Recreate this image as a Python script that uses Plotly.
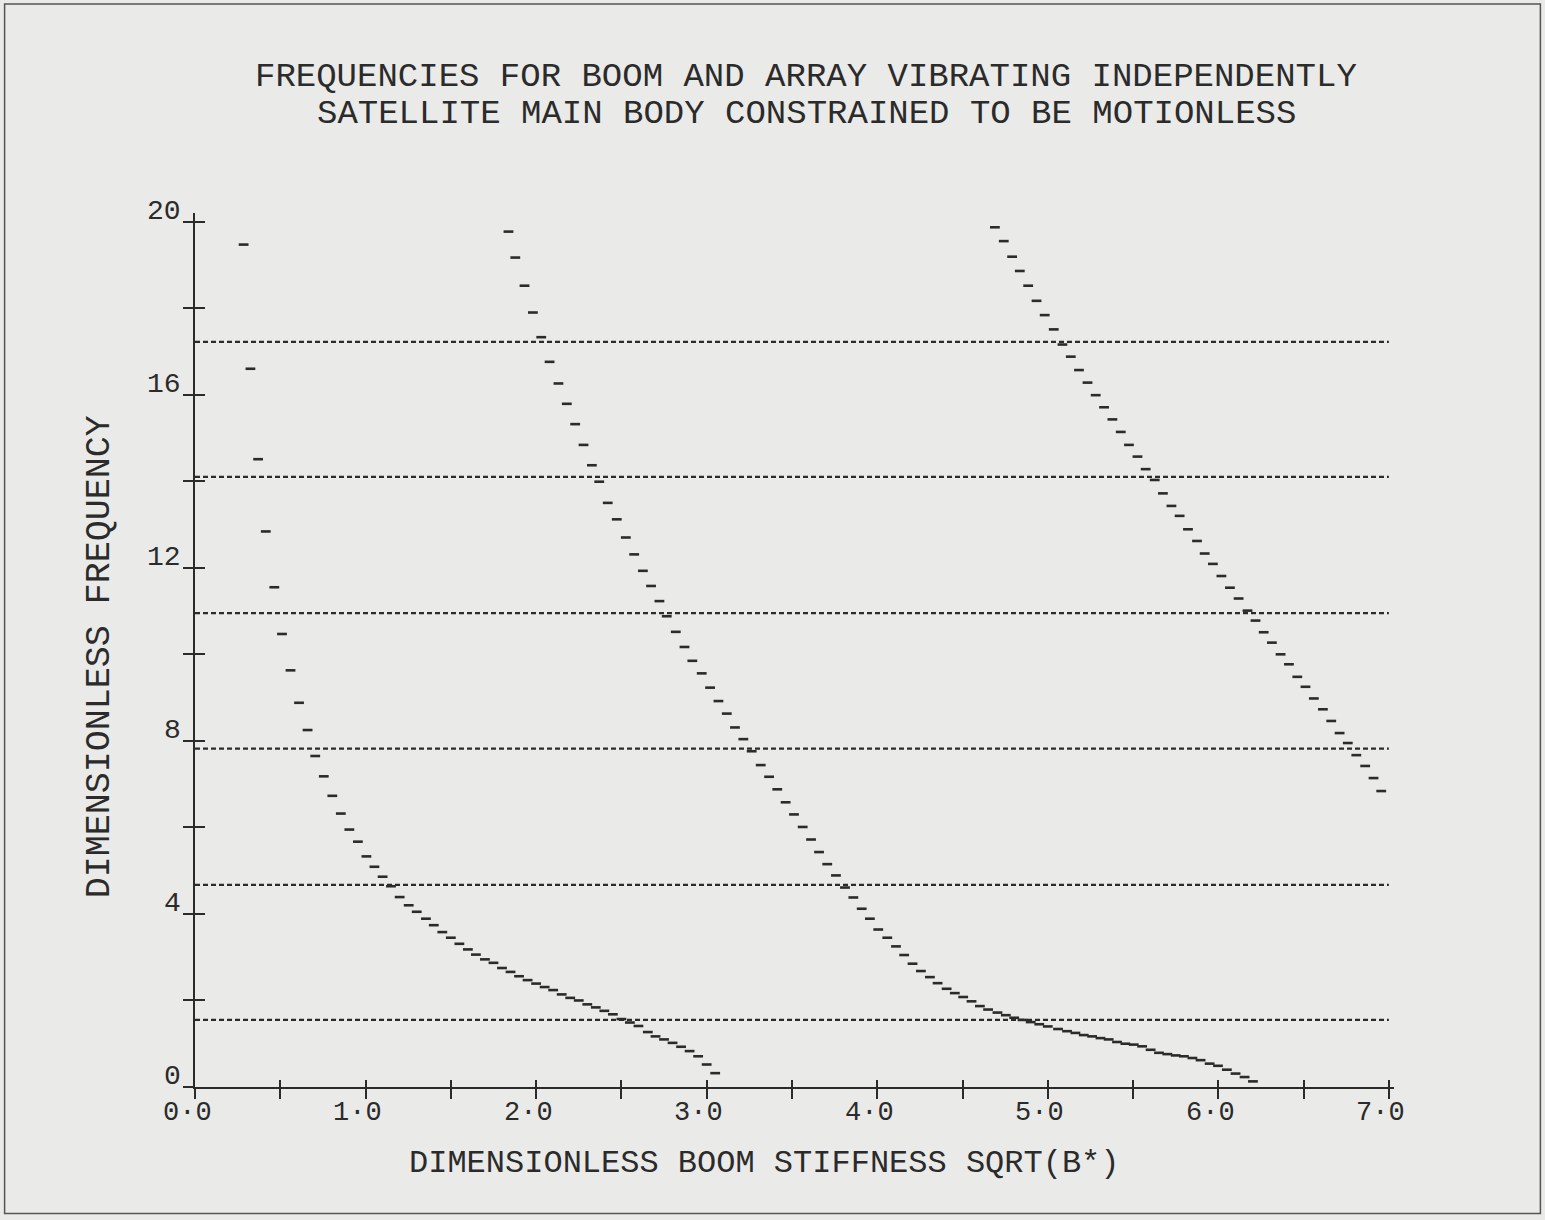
import plotly.graph_objects as go

# ---- data -------------------------------------------------------------
# Array (solar panel) frequencies: independent of boom stiffness
array_levels = [1.55, 4.67, 7.82, 10.95, 14.10, 17.22]
stiffness_range = [0.0, 7.0]

# Boom mode 1
boom1_x = [0.285, 0.325, 0.37, 0.415, 0.465, 0.51, 0.56, 0.61, 0.66, 0.705,
           0.755, 0.805, 0.855, 0.905, 0.955, 1.005, 1.052, 1.10, 1.149, 1.20,
           1.253, 1.30, 1.354, 1.40, 1.45, 1.50, 1.55, 1.60, 1.647, 1.70,
           1.75, 1.80, 1.85, 1.90, 1.95, 2.00, 2.05, 2.10, 2.15, 2.20,
           2.25, 2.30, 2.35, 2.40, 2.45, 2.50, 2.55, 2.60, 2.655, 2.70,
           2.75, 2.80, 2.85, 2.90, 2.95, 3.00, 3.05]
boom1_f = [19.47, 16.60, 14.51, 12.84, 11.55, 10.47, 9.63, 8.88, 8.25, 7.65,
           7.18, 6.73, 6.32, 5.95, 5.67, 5.33, 5.09, 4.86, 4.64, 4.39,
           4.20, 4.05, 3.89, 3.74, 3.58, 3.45, 3.31, 3.18, 3.06, 2.95,
           2.87, 2.75, 2.66, 2.56, 2.47, 2.39, 2.31, 2.24, 2.14, 2.06,
           2.00, 1.91, 1.84, 1.76, 1.68, 1.57, 1.49, 1.41, 1.27, 1.17,
           1.10, 1.02, 0.93, 0.83, 0.71, 0.52, 0.32]

# Boom mode 2
boom2_x = [1.838, 1.878, 1.932, 1.981, 2.03, 2.079, 2.131, 2.18, 2.229, 2.278,
           2.327, 2.37, 2.42, 2.473, 2.526, 2.575, 2.626, 2.674, 2.723, 2.766,
           2.819, 2.87, 2.916, 2.971, 3.02, 3.069, 3.118, 3.166, 3.215, 3.264,
           3.317, 3.366, 3.414, 3.463, 3.512, 3.563, 3.612, 3.659, 3.707, 3.758,
           3.811, 3.86, 3.909, 3.957, 4.006, 4.059, 4.11, 4.158, 4.207, 4.256,
           4.309, 4.354, 4.407, 4.455, 4.504, 4.553, 4.602, 4.65, 4.705, 4.754,
           4.803, 4.852, 4.90, 4.95, 5.00, 5.06, 5.113, 5.162, 5.211, 5.26,
           5.309, 5.357, 5.406, 5.455, 5.504, 5.553, 5.603, 5.652, 5.701, 5.75,
           5.798, 5.848, 5.896, 5.949, 5.998, 6.05, 6.101, 6.154, 6.203]
boom2_f = [19.77, 19.17, 18.52, 17.90, 17.33, 16.76, 16.26, 15.79, 15.32, 14.84,
           14.37, 13.99, 13.50, 13.12, 12.70, 12.31, 11.93, 11.58, 11.23, 10.88,
           10.52, 10.17, 9.85, 9.56, 9.23, 8.92, 8.63, 8.31, 8.04, 7.76,
           7.44, 7.17, 6.88, 6.58, 6.30, 6.01, 5.72, 5.43, 5.15, 4.89,
           4.61, 4.38, 4.12, 3.89, 3.64, 3.45, 3.25, 3.05, 2.85, 2.68,
           2.54, 2.40, 2.27, 2.17, 2.08, 1.98, 1.87, 1.79, 1.72, 1.66,
           1.60, 1.55, 1.50, 1.45, 1.40, 1.34, 1.29, 1.25, 1.20, 1.17,
           1.13, 1.10, 1.04, 1.00, 0.98, 0.94, 0.86, 0.79, 0.76, 0.73,
           0.71, 0.67, 0.62, 0.54, 0.49, 0.40, 0.31, 0.23, 0.13]

# Boom mode 3
boom3_x = [4.69, 4.742, 4.791, 4.836, 4.885, 4.934, 4.982, 5.035, 5.086, 5.135,
           5.183, 5.233, 5.281, 5.33, 5.379, 5.428, 5.476, 5.526, 5.574, 5.627,
           5.675, 5.725, 5.773, 5.822, 5.875, 5.92, 5.968, 6.018, 6.068, 6.119,
           6.171, 6.218, 6.266, 6.314, 6.365, 6.414, 6.463, 6.511, 6.56, 6.613,
           6.662, 6.711, 6.759, 6.809, 6.861, 6.91, 6.955]
boom3_f = [19.87, 19.55, 19.19, 18.86, 18.52, 18.17, 17.84, 17.51, 17.16, 16.88,
           16.57, 16.28, 15.99, 15.71, 15.43, 15.14, 14.84, 14.57, 14.28, 14.03,
           13.72, 13.43, 13.20, 12.89, 12.62, 12.33, 12.09, 11.81, 11.54, 11.29,
           11.01, 10.78, 10.51, 10.27, 10.00, 9.77, 9.48, 9.25, 8.98, 8.73,
           8.46, 8.18, 7.95, 7.67, 7.42, 7.14, 6.84]

x_tick_vals = [0.0, 0.5, 1.0, 1.5, 2.0, 2.5, 3.0, 3.5, 4.0, 4.5, 5.0, 5.5, 6.0, 6.5, 7.0]
x_tick_text = ["0·0", "", "1·0", "", "2·0", "", "3·0", "", "4·0", "", "5·0", "", "6·0", "", "7·0"]
y_tick_vals = [0, 2, 4, 6, 8, 10, 12, 14, 16, 18, 20]
y_tick_text = ["0", "", "4", "", "8", "", "12", "", "16", "", "20"]

# ---- styling ----------------------------------------------------------
INK = "#2b2b2b"
PAPER = "#eaeae8"
FONT = "Liberation Mono"

fig = go.Figure()

for level in array_levels:
    fig.add_trace(go.Scatter(
        x=stiffness_range, y=[level, level], mode="lines",
        line=dict(color=INK, width=2.3, dash="5px,3px"),
        hoverinfo="skip", showlegend=False))

for bx, bf in [(boom1_x, boom1_f), (boom2_x, boom2_f), (boom3_x, boom3_f)]:
    fig.add_trace(go.Scatter(
        x=bx, y=bf, mode="markers",
        marker=dict(symbol="line-ew", size=7,
                    line=dict(color=INK, width=2.6)),
        showlegend=False))

# companion axes carrying the inward half of each tick
fig.add_trace(go.Scatter(x=[], y=[], xaxis="x2", yaxis="y2", showlegend=False))

x_range = [0, 7.03]
y_range = [0, 20.2]

fig.update_layout(
    width=1545, height=1220,
    margin=dict(l=194.5, r=150.5, t=213, b=133.3),
    paper_bgcolor=PAPER, plot_bgcolor=PAPER,
    font=dict(family=FONT, color=INK),
    showlegend=False,
    xaxis=dict(range=x_range, tickvals=x_tick_vals, showticklabels=False,
               ticks="outside", ticklen=10, tickwidth=2, tickcolor=INK,
               showline=True, linewidth=2, linecolor=INK,
               showgrid=False, zeroline=False),
    yaxis=dict(range=y_range, tickvals=y_tick_vals, showticklabels=False,
               ticks="outside", ticklen=10, tickwidth=2, tickcolor=INK,
               showline=True, linewidth=2, linecolor=INK,
               showgrid=False, zeroline=False),
    xaxis2=dict(range=x_range, overlaying="x", anchor="y", side="bottom",
                tickvals=x_tick_vals, showticklabels=False,
                ticks="inside", ticklen=7, tickwidth=2, tickcolor=INK,
                showline=False, showgrid=False, zeroline=False),
    yaxis2=dict(range=y_range, overlaying="y", anchor="x", side="left",
                tickvals=y_tick_vals, showticklabels=False,
                ticks="inside", ticklen=10, tickwidth=2, tickcolor=INK,
                showline=False, showgrid=False, zeroline=False),
)

# tick labels, set just below / left of their ticks as the plotter drew them
for v, t in zip(x_tick_vals, x_tick_text):
    if t:
        fig.add_annotation(text=t, xref="x", yref="paper", x=v, y=0,
                           xanchor="center", yanchor="top", xshift=-8, yshift=-9,
                           showarrow=False,
                           font=dict(family=FONT, size=27, color=INK))
for v, t in zip(y_tick_vals, y_tick_text):
    if t:
        fig.add_annotation(text=t, xref="paper", yref="y", x=0, y=v,
                           xanchor="right", yanchor="bottom", xshift=-12, yshift=-7,
                           showarrow=False,
                           font=dict(family=FONT, size=28, color=INK))

fig.add_annotation(text="FREQUENCIES FOR BOOM AND ARRAY VIBRATING INDEPENDENTLY",
                   xref="paper", yref="paper", x=0.510, y=1.156,
                   xanchor="center", yanchor="middle", showarrow=False,
                   font=dict(family=FONT, size=34, color=INK))
fig.add_annotation(text="SATELLITE MAIN BODY CONSTRAINED TO BE MOTIONLESS",
                   xref="paper", yref="paper", x=0.510, y=1.1135,
                   xanchor="center", yanchor="middle", showarrow=False,
                   font=dict(family=FONT, size=34, color=INK))
fig.add_annotation(text="DIMENSIONLESS FREQUENCY", textangle=-90,
                   xref="paper", yref="paper", x=-0.079, y=0.492,
                   xanchor="center", yanchor="middle", showarrow=False,
                   font=dict(family=FONT, size=35, color=INK))
fig.add_annotation(text="DIMENSIONLESS BOOM STIFFNESS SQRT(B*)",
                   xref="paper", yref="paper", x=0.4746, y=-0.0873,
                   xanchor="center", yanchor="middle", showarrow=False,
                   font=dict(family=FONT, size=32, color=INK))

# page frame
fig.add_shape(type="rect", xref="paper", yref="paper",
              x0=-0.1588, x1=1.1221, y0=-0.1446, y1=1.2392,
              line=dict(color="#555555", width=1.5), layer="below")

fig.write_html("out.html")
